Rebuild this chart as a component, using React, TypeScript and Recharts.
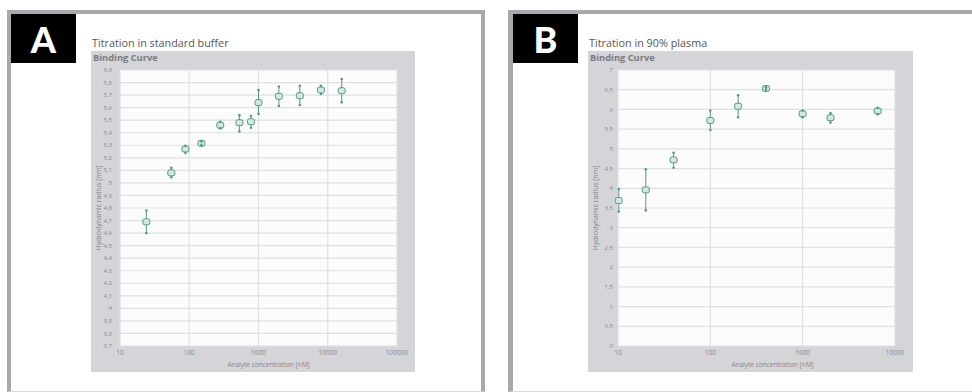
import { ScatterChart, Scatter, XAxis, YAxis, CartesianGrid, ErrorBar } from "recharts";

// Panel A: titration in standard buffer
const concA = [24, 55, 88, 150, 280, 530, 780, 1000, 1970, 3950, 7980, 15900];
const radiusA = [4.69, 5.08, 5.27, 5.316, 5.46, 5.48, 5.488, 5.64, 5.69, 5.695, 5.74, 5.735];
const errLowA = [0.09, 0.035, 0.032, 0.015, 0.025, 0.07, 0.048, 0.09, 0.077, 0.074, 0.03, 0.092];
const errHighA = [0.09, 0.04, 0.026, 0.015, 0.028, 0.06, 0.045, 0.1, 0.078, 0.08, 0.035, 0.093];
const yTicksA = [3.7, 3.8, 3.9, 4, 4.1, 4.2, 4.3, 4.4, 4.5, 4.6, 4.7, 4.8, 4.9, 5, 5.1, 5.2, 5.3, 5.4, 5.5, 5.6, 5.7, 5.8, 5.9];
const xTicksA = [10, 100, 1000, 10000, 100000];

// Panel B: titration in 90% plasma
const concB = [10.2, 20, 40, 100, 200, 400, 1000, 2000, 6500];
const radiusB = [3.69, 3.96, 4.72, 5.72, 6.08, 6.53, 5.89, 5.79, 5.96];
const errLowB = [0.28, 0.52, 0.2, 0.24, 0.28, 0.03, 0.09, 0.12, 0.08];
const errHighB = [0.29, 0.52, 0.18, 0.25, 0.28, 0.03, 0.08, 0.12, 0.08];
const yTicksB = [0, 0.5, 1, 1.5, 2, 2.5, 3, 3.5, 4, 4.5, 5, 5.5, 6, 6.5, 7];
const xTicksB = [10, 100, 1000, 10000];

const TEAL = "#559985";
const FONT = "'Open Sans', 'Noto Sans', sans-serif";

const box = (props: any) => (
  <rect x={props.cx - 3.5} y={props.cy - 3} width={7} height={6} rx={2} fill="#d0e8de" stroke={TEAL} strokeWidth={1} />
);
const endDot = (props: any) => <circle cx={props.cx} cy={props.cy} r={1.3} fill={TEAL} />;

function BindingCurve({ conc, radius, lo, hi, xTicks, yTicks, yDomain, fmt, yAxisWidth, right, tickSize, titleShift }: any) {
  const points = conc.map((c: number, i: number) => ({ x: c, y: radius[i], err: [lo[i], hi[i]] }));
  const ends = conc.flatMap((c: number, i: number) => [
    { x: c, y: radius[i] - lo[i] },
    { x: c, y: radius[i] + hi[i] },
  ]);
  return (
    <ScatterChart width={yAxisWidth + 277 + right} height={321} margin={{ top: 19, right, bottom: 0, left: 0 }}>
      <CartesianGrid fill="#fcfcfc" stroke="#dfdfe5" strokeWidth={1.2} />
      <XAxis
        type="number"
        dataKey="x"
        scale="log"
        domain={[xTicks[0], xTicks[xTicks.length - 1]]}
        ticks={xTicks}
        interval={0}
        height={26}
        tickLine={false}
        axisLine={false}
        tickSize={3}
        tickMargin={1}
        tick={{ fontSize: 6.5, fill: "#8a8a90", fontFamily: FONT }}
        label={({ viewBox }: any) => (
          <text x={viewBox.x + viewBox.width / 2 + titleShift} y={viewBox.y + 21} textAnchor="middle" fontSize={6.5} fill="#85858c" fontFamily={FONT}>
            Analyte concentration [nM]
          </text>
        )}
      />
      <YAxis
        type="number"
        dataKey="y"
        domain={yDomain}
        ticks={yTicks}
        interval={0}
        width={yAxisWidth}
        tickLine={false}
        axisLine={false}
        tickSize={tickSize}
        tickMargin={2}
        tickFormatter={fmt}
        tick={{ fontSize: 6, fill: "#8a8a90", fontFamily: FONT }}
        label={({ viewBox }: any) => {
          const cx = viewBox.x + 8.5;
          const cy = viewBox.y + viewBox.height / 2;
          return (
            <text x={cx} y={cy} transform={`rotate(-90 ${cx} ${cy})`} textAnchor="middle" dominantBaseline="middle" fontSize={6.8} fill="#85858c" fontFamily={FONT}>
              Hydrodynamic radius [nm]
            </text>
          );
        }}
      />
      <Scatter data={points} shape={box} isAnimationActive={false}>
        <ErrorBar dataKey="err" direction="y" width={0} stroke={TEAL} strokeWidth={1} />
      </Scatter>
      <Scatter data={ends} shape={endDot} isAnimationActive={false} />
    </ScatterChart>
  );
}

function Panel({ frame, letter, title, gray, children }: any) {
  return (
    <>
      <div style={{ position: "absolute", boxSizing: "border-box", ...frame }} />
      <div
        style={{
          position: "absolute", left: frame.left + frame.borderLeftWidth, top: 14, width: 65, height: 49, background: "#000",
          color: "#fff", fontFamily: "Lato, 'Open Sans', sans-serif", fontWeight: 900, fontSize: 36,
          display: "flex", alignItems: "center", justifyContent: "center",
        }}
      >
        {letter}
      </div>
      <div style={{ position: "absolute", left: gray.left + 1, top: 35, fontFamily: FONT, fontSize: 10.8, color: "#555559", whiteSpace: "nowrap" }}>
        {title}
      </div>
      <div style={{ position: "absolute", left: gray.left, top: 51, width: gray.width, height: 321, background: "#d4d4d9" }}>
        <div style={{ position: "absolute", left: 2, top: 0, fontFamily: FONT, fontWeight: 700, fontSize: 9.3, color: "#7b7b82", whiteSpace: "nowrap" }}>
          Binding Curve
        </div>
        {children}
      </div>
    </>
  );
}

export default function App() {
  return (
    <div style={{ position: "absolute", left: 0, top: 0, width: 972, height: 392, background: "#fff", overflow: "hidden" }}>
      <Panel
        frame={{ left: 7, top: 10, width: 478, height: 382, borderLeftWidth: 4, borderStyle: "solid", borderColor: "#a9a9ad", borderWidth: "4px 4px 1px 4px", borderBottomColor: "#dcdcdc" }}
        letter="A"
        title="Titration in standard buffer"
        gray={{ left: 91, width: 324 }}
      >
        <BindingCurve
          conc={concA}
          radius={radiusA}
          lo={errLowA}
          hi={errHighA}
          xTicks={xTicksA}
          yTicks={yTicksA}
          yDomain={[3.7, 5.9]}
          fmt={(v: number) => String(v).replace(".", ",")}
          yAxisWidth={29}
          right={12}
          tickSize={6}
          titleShift={10}
        />
      </Panel>
      <Panel
        frame={{ left: 508, top: 10, width: 480, height: 382, borderLeftWidth: 5, borderStyle: "solid", borderColor: "#a9a9ad", borderWidth: "4px 0 1px 5px", borderBottomColor: "#dcdcdc" }}
        letter="B"
        title="Titration in 90% plasma"
        gray={{ left: 588, width: 325 }}
      >
        <BindingCurve
          conc={concB}
          radius={radiusB}
          lo={errLowB}
          hi={errHighB}
          xTicks={xTicksB}
          yTicks={yTicksB}
          yDomain={[0, 7]}
          fmt={(v: number) => String(v)}
          yAxisWidth={30}
          right={18}
          tickSize={3}
          titleShift={16}
        />
      </Panel>
    </div>
  );
}
